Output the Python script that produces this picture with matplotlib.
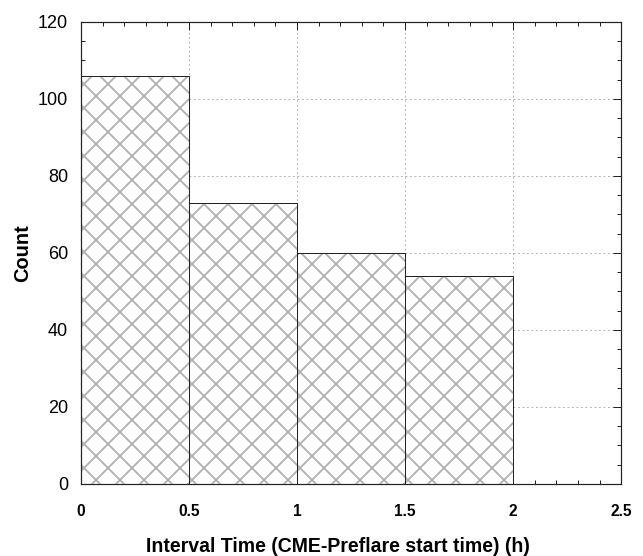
import matplotlib
matplotlib.use("Agg")
import matplotlib.pyplot as plt
from matplotlib.ticker import MultipleLocator

bin_left = [0.0, 0.5, 1.0, 1.5]
bin_width = 0.5
counts = [106, 73, 60, 54]
x_ticks = [0, 0.5, 1, 1.5, 2, 2.5]
x_tick_labels = ["0", "0.5", "1", "1.5", "2", "2.5"]
y_ticks = [0, 20, 40, 60, 80, 100, 120]

plt.rcParams["font.family"] = ["Liberation Sans", "DejaVu Sans"]
plt.rcParams["hatch.color"] = "#b0b0b0"
plt.rcParams["hatch.linewidth"] = 1.8

dpi = 72
fig = plt.figure(figsize=(643 / dpi, 556 / dpi), dpi=dpi)
ax = fig.add_axes([0.126, 0.1295, 0.840, 0.831])

ax.grid(True, which="major", color="#aaaaaa", linestyle=(0, (2, 3)), linewidth=0.9, zorder=0)
ax.set_axisbelow(True)

# hatch fill, then black outline on top
ax.bar(bin_left, counts, width=bin_width, align="edge", color="white",
       edgecolor="#b0b0b0", hatch="x", linewidth=0, zorder=2)
ax.bar(bin_left, counts, width=bin_width, align="edge", fill=False,
       edgecolor="#222222", linewidth=1.0, zorder=3)

ax.set_xlim(0, 2.5)
ax.set_ylim(0, 120)
ax.set_xticks(x_ticks)
ax.set_xticklabels(x_tick_labels, fontweight="bold")
ax.set_yticks(y_ticks)
ax.xaxis.set_minor_locator(MultipleLocator(0.1))
ax.yaxis.set_minor_locator(MultipleLocator(5))
ax.tick_params(which="both", direction="in", top=True, right=True, width=1.0, color="#222222")
ax.tick_params(which="major", length=8)
ax.tick_params(axis="y", which="major", labelsize=18, pad=13)
ax.tick_params(axis="x", which="major", labelsize=15.5, pad=20)
ax.tick_params(which="minor", length=4)
for s in ax.spines.values():
    s.set_linewidth(1.2)
    s.set_color("#222222")

ax.set_xlabel("Interval Time (CME-Preflare start time) (h)", fontsize=19.5, fontweight="bold")
ax.xaxis.set_label_coords(0.476, -0.115)
ax.xaxis.label.set_va("top")
ax.set_ylabel("Count", fontsize=20, fontweight="bold")
ax.yaxis.set_label_coords(-0.09, 0.5)

fig.savefig("out.png", dpi=dpi)
